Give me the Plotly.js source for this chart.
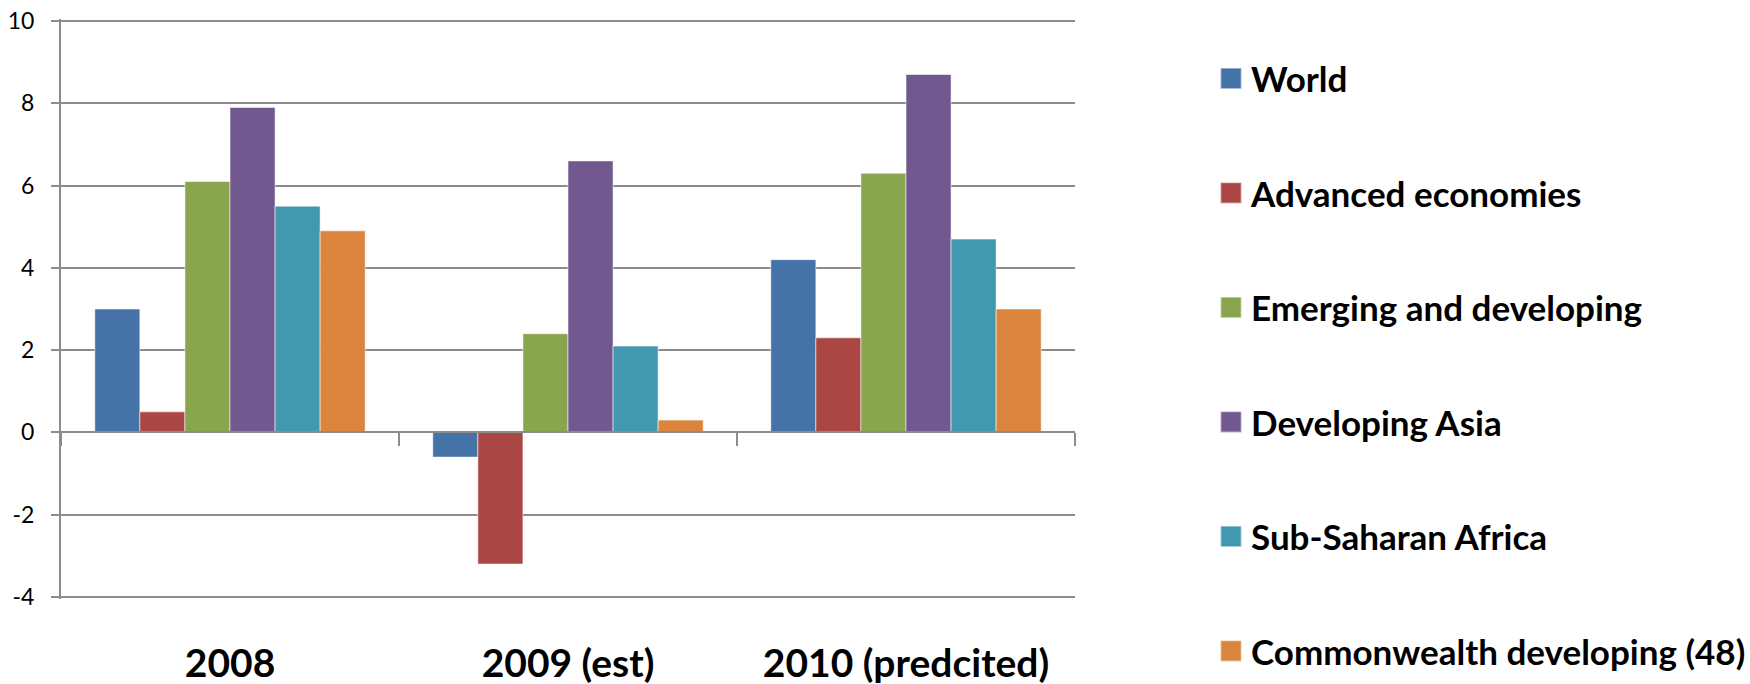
<!DOCTYPE html>
<html>
<head>
<meta charset="utf-8">
<script src="https://cdn.plot.ly/plotly-3.0.1.min.js"></script>
<style>html,body{margin:0;padding:0;background:#fff;}#chart{width:1750px;height:684px;}</style>
</head>
<body>
<div id="chart"></div>
<script>
// Data
var categories = ["2008", "2009 (est)", "2010 (predcited)"];
var categoryIndex = [0, 1, 2];
var seriesNames = ["World", "Advanced economies", "Emerging and developing", "Developing Asia", "Sub-Saharan Africa", "Commonwealth developing (48)"];
var world = [3.0, -0.6, 4.2];
var advanced = [0.5, -3.2, 2.3];
var emerging = [6.1, 2.4, 6.3];
var devAsia = [7.9, 6.6, 8.7];
var subSaharan = [5.5, 2.1, 4.7];
var commonwealth = [4.9, 0.3, 3.0];
var yTickVals = [-4, -2, 0, 2, 4, 6, 8, 10];
var categoryBoundaries = [-0.5, 0.5, 1.5, 2.5];

var seriesValues = [world, advanced, emerging, devAsia, subSaharan, commonwealth];
var colors = ["#4572A7", "#AA4643", "#89A54E", "#71588F", "#4198AF", "#DB843D"];

var traces = seriesValues.map(function (vals, i) {
  return {
    type: "bar",
    name: seriesNames[i],
    x: categories,
    y: vals,
    marker: { color: colors[i], line: { color: "rgba(255,255,255,0.55)", width: 1 } },
    legendgroup: "g" + i,
    hoverinfo: "skip"
  };
});
// helper (draws nothing) so the category-boundary axis at y = 0 is rendered
traces.push({
  type: "scatter", mode: "none", x: categoryIndex, y: world,
  xaxis: "x2", yaxis: "y", showlegend: false, hoverinfo: "skip"
});

var yMin = -4, yMax = 10, yPad = 0.0486;
var gridColor = "#8c8c8c";
var layout = {
  width: 1750,
  height: 684,
  margin: { l: 61, r: 675, t: 19, b: 85, pad: 0 },
  paper_bgcolor: "#ffffff",
  plot_bgcolor: "#ffffff",
  barmode: "group",
  bargap: 0.2,
  bargroupgap: 0,
  font: { family: "Lato, 'Open Sans', sans-serif", color: "#000000" },
  showlegend: true,
  legend: {
    xref: "container", yref: "container",
    x: 0.692, y: 0.928, xanchor: "left", yanchor: "top",
    maxheight: 684,
    font: { family: "Lato, sans-serif", size: 35, color: "#000000", weight: "bold" },
    tracegroupgap: 66,
    bgcolor: "rgba(0,0,0,0)",
    borderwidth: 0,
    traceorder: "grouped"
  },
  xaxis: {
    type: "category",
    categoryarray: categories,
    range: [-0.5, 2.5],
    showline: false,
    showgrid: false,
    zeroline: false,
    ticks: "",
    ticklabelstandoff: 38,
    tickfont: { family: "Lato, sans-serif", size: 39, color: "#000000", weight: "bold" },
    fixedrange: true
  },
  xaxis2: {
    overlaying: "x",
    anchor: "free",
    position: (0 - (yMin - yPad)) / ((yMax + yPad) - (yMin - yPad)),
    type: "linear",
    range: [-0.5, 2.5],
    tickmode: "array",
    tickvals: categoryBoundaries,
    ticks: "outside",
    ticklen: 13,
    tickwidth: 2,
    tickcolor: gridColor,
    showline: true,
    linecolor: gridColor,
    linewidth: 2,
    showticklabels: false,
    showgrid: false,
    zeroline: false,
    side: "bottom",
    fixedrange: true
  },
  yaxis: {
    range: [yMin - yPad, yMax + yPad],
    tickmode: "array",
    tickvals: yTickVals,
    ticktext: yTickVals.map(String),
    showgrid: true,
    gridcolor: gridColor,
    gridwidth: 2,
    zeroline: false,
    showline: true,
    linecolor: gridColor,
    linewidth: 2,
    ticks: "outside",
    ticklen: 8,
    tickwidth: 2,
    tickcolor: gridColor,
    ticklabelstandoff: 12,
    tickfont: { family: "Lato, sans-serif", size: 23, color: "#000000" },
    fixedrange: true
  }
};

Plotly.newPlot("chart", traces, layout, { displayModeBar: false, staticPlot: true }).then(function () {
  // enlarge the legend colour squares to match the reference
  document.querySelectorAll("#chart .legend .legendpoints path").forEach(function (p) {
    var t = p.getAttribute("transform") || "";
    p.setAttribute("transform", t + " scale(1.75)");
  });
});
</script>
</body>
</html>
